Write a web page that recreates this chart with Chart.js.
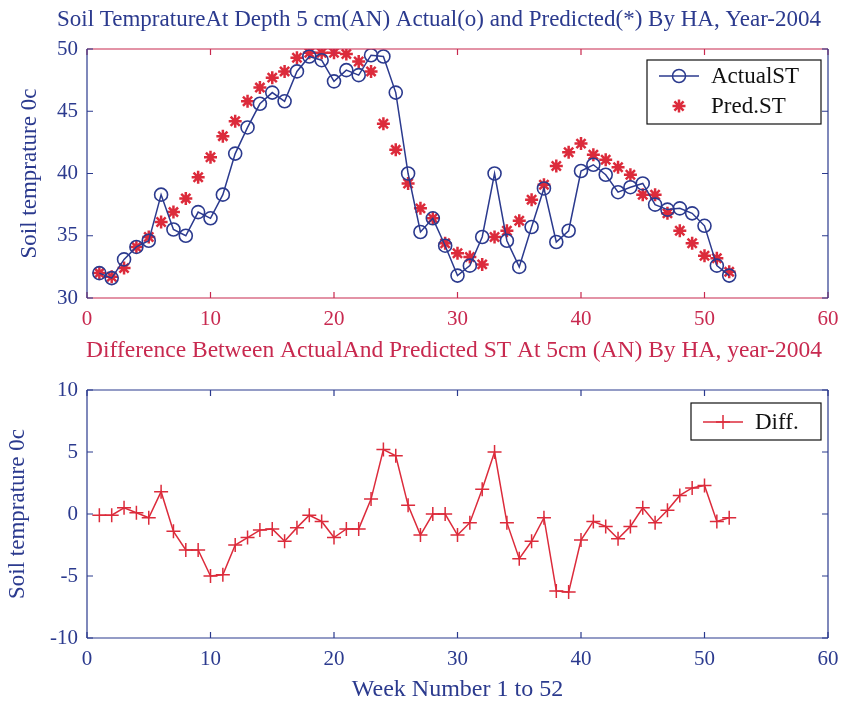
<!DOCTYPE html>
<html lang="en">
<head>
<meta charset="UTF-8">
<title>Soil Temprature 2004</title>
<script src="https://cdn.jsdelivr.net/npm/chart.js"></script>
<style>
  body { margin: 0; background: #fff; overflow: hidden; }
  .box { position: absolute; left: 0; width: 857px; }
</style>
</head>
<body>
<div class="box" style="top:0;height:335px"><canvas id="tempChart" width="857" height="335"></canvas></div>
<div class="box" style="top:335px;height:373px"><canvas id="diffChart" width="857" height="373"></canvas></div>
<script>
// week numbers and values
const weeks = [1,2,3,4,5,6,7,8,9,10,11,12,13,14,15,16,17,18,19,20,21,22,23,24,25,26,
               27,28,29,30,31,32,33,34,35,36,37,38,39,40,41,42,43,44,45,46,47,48,49,50,51,52];
const actualST = [32.0,31.6,33.1,34.1,34.6,38.3,35.5,35.0,36.9,36.4,38.3,41.6,43.7,45.6,46.5,45.8,48.2,49.4,49.1,47.4,
                  48.3,47.9,49.5,49.4,46.5,40.0,35.3,36.4,34.2,31.8,32.6,34.9,40.0,34.6,32.5,35.7,38.8,34.5,35.4,40.2,
                  40.7,39.9,38.5,38.9,39.2,37.5,37.1,37.2,36.8,35.8,32.6,31.8];
const predST = [32.0,31.7,32.4,34.1,34.9,36.1,36.9,38.0,39.7,41.3,43.0,44.2,45.8,46.9,47.7,48.2,49.3,49.7,49.7,49.7,
                49.6,49.0,48.2,44.0,41.9,39.2,37.2,36.4,34.4,33.6,33.3,32.7,34.9,35.4,36.2,37.9,39.1,40.6,41.7,42.4,
                41.5,41.1,40.5,39.9,38.3,38.3,36.8,35.4,34.4,33.4,33.2,32.1];
const diffST = [-0.1,-0.1,0.5,0.1,-0.3,1.8,-1.4,-2.9,-2.9,-5.0,-4.9,-2.5,-1.9,-1.3,-1.2,-2.2,-1.1,-0.1,-0.6,-1.9,
                -1.2,-1.2,1.2,5.2,4.7,0.7,-1.7,0.0,0.0,-1.7,-0.7,2.0,5.0,-0.7,-3.6,-2.2,-0.3,-6.2,-6.3,-2.1,
                -0.6,-1.0,-2.0,-1.0,0.5,-0.7,0.3,1.5,2.1,2.3,-0.6,-0.3];
const xTicks = [0,10,20,30,40,50,60];
const tempTicks = [30,35,40,45,50];
const diffTicks = [-10,-5,0,5,10];

const BLUE = '#2b3a8e';
const RED = '#dc2b3b';
const CRIMSON = '#c8294f';
const FONT = 'Liberation Serif, Times New Roman, serif';

function pts(ys) { return weeks.map((w, i) => ({ x: w, y: ys[i] })); }

function marker(ctx, style, x, y, r) {
  ctx.beginPath();
  if (style === 'circle') {
    ctx.arc(x, y, r, 0, Math.PI * 2);
  } else {
    ctx.moveTo(x - r, y); ctx.lineTo(x + r, y);
    ctx.moveTo(x, y - r); ctx.lineTo(x, y + r);
    if (style === 'star') {
      const d = r * 0.707;
      ctx.moveTo(x - d, y - d); ctx.lineTo(x + d, y + d);
      ctx.moveTo(x - d, y + d); ctx.lineTo(x + d, y - d);
    }
  }
  ctx.stroke();
}

// matlab-like box: coloured edges, inward ticks, title and a boxed legend
const frame = {
  id: 'frame',
  afterDraw(chart, args, o) {
    const ctx = chart.ctx, a = chart.chartArea;
    const xs = chart.scales.x, ys = chart.scales.y;
    ctx.save();
    ctx.lineWidth = 1.2;
    ctx.strokeStyle = o.xColor;
    ctx.beginPath();
    ctx.moveTo(a.left, a.top); ctx.lineTo(a.right, a.top);
    ctx.moveTo(a.left, a.bottom); ctx.lineTo(a.right, a.bottom);
    o.xTicks.forEach(v => {
      const px = xs.getPixelForValue(v);
      ctx.moveTo(px, a.top); ctx.lineTo(px, a.top + 6);
      ctx.moveTo(px, a.bottom); ctx.lineTo(px, a.bottom - 6);
    });
    ctx.stroke();
    ctx.strokeStyle = o.yColor;
    ctx.beginPath();
    ctx.moveTo(a.left, a.top); ctx.lineTo(a.left, a.bottom);
    ctx.moveTo(a.right, a.top); ctx.lineTo(a.right, a.bottom);
    o.yTicks.forEach(v => {
      const py = ys.getPixelForValue(v);
      ctx.moveTo(a.left, py); ctx.lineTo(a.left + 6, py);
      ctx.moveTo(a.right, py); ctx.lineTo(a.right - 6, py);
    });
    ctx.stroke();

    ctx.fillStyle = o.titleColor;
    ctx.font = o.titleSize + 'px ' + FONT;
    ctx.textAlign = 'center';
    ctx.textBaseline = 'middle';
    ctx.fillText(o.title, o.titleX, o.titleY);

    // legend
    const L = o.legend;
    ctx.fillStyle = '#fff';
    ctx.fillRect(L.x, L.y, L.w, L.h);
    ctx.strokeStyle = '#111';
    ctx.lineWidth = 1.2;
    ctx.strokeRect(L.x, L.y, L.w, L.h);
    ctx.font = '23px ' + FONT;
    ctx.textAlign = 'left';
    L.items.forEach((it, i) => {
      const cy = L.y + L.first + i * L.step;
      const lx = L.x + 12;
      ctx.strokeStyle = it.color;
      ctx.lineWidth = 1.5;
      if (it.line) {
        ctx.beginPath(); ctx.moveTo(lx, cy); ctx.lineTo(lx + 40, cy); ctx.stroke();
      }
      ctx.lineWidth = it.style === 'star' ? 2.5 : 1.5;
      marker(ctx, it.style, lx + 20, cy, it.r);
      ctx.fillStyle = '#111';
      ctx.fillText(it.label, L.x + 64, cy + 1);
    });
    ctx.restore();
  }
};

function scales(yMin, yMax, xColor, yColor, xTitle, xHeight, yPad) {
  return {
    x: {
      type: 'linear', min: 0, max: 60,
      afterBuildTicks: s => { s.ticks = xTicks.map(v => ({ value: v })); },
      afterFit: s => { s.height = xHeight; },
      grid: { display: false, drawTicks: false }, border: { display: false },
      ticks: { color: xColor, padding: 9, maxRotation: 0, font: { family: FONT, size: 21 } },
      title: xTitle ? { display: true, text: xTitle, color: BLUE, padding: { top: 2, bottom: 4 },
                        font: { family: FONT, size: 24 } } : { display: false }
    },
    y: {
      type: 'linear', min: yMin, max: yMax,
      afterFit: s => { s.width = 87; },
      grid: { display: false, drawTicks: false }, border: { display: false },
      ticks: { color: yColor, padding: 9, stepSize: 5, font: { family: FONT, size: 21 } },
      title: { display: true, text: 'Soil temprature 0c', color: BLUE, padding: { top: yPad, bottom: 0 },
               font: { family: FONT, size: 23 } }
    }
  };
}

new Chart(document.getElementById('tempChart'), {
  type: 'line',
  data: {
    datasets: [{
      label: 'ActualST',
      data: pts(actualST),
      borderColor: BLUE,
      borderWidth: 1.5,
      pointStyle: 'circle',
      pointRadius: 6.5,
      pointBorderColor: BLUE,
      pointBackgroundColor: 'rgba(0,0,0,0)',
      pointBorderWidth: 1.6,
      tension: 0
    }, {
      label: 'Pred.ST',
      data: pts(predST),
      showLine: false,
      pointStyle: 'star',
      pointRadius: 6.5,
      pointBorderColor: RED,
      pointBorderWidth: 2.5
    }]
  },
  options: {
    responsive: false,
    animation: false,
    devicePixelRatio: 1,
    layout: { padding: { top: 49, right: 29, left: 0, bottom: 0 } },
    scales: scales(30, 50, CRIMSON, BLUE, null, 37, 16),
    plugins: {
      legend: { display: false },
      tooltip: { enabled: false },
      frame: {
        xColor: CRIMSON, yColor: BLUE, xTicks: xTicks, yTicks: tempTicks,
        title: 'Soil TempratureAt Depth 5 cm(AN) Actual(o) and Predicted(*) By HA, Year-2004',
        titleColor: BLUE, titleSize: 23, titleX: 439, titleY: 20,
        legend: { x: 647, y: 60, w: 174, h: 64, first: 16, step: 30, items: [
          { label: 'ActualST', color: BLUE, style: 'circle', r: 6.5, line: true },
          { label: 'Pred.ST', color: RED, style: 'star', r: 6.5, line: false }
        ] }
      }
    }
  },
  plugins: [frame]
});

new Chart(document.getElementById('diffChart'), {
  type: 'line',
  data: {
    datasets: [{
      label: 'Diff.',
      data: pts(diffST),
      borderColor: RED,
      borderWidth: 1.5,
      pointStyle: 'cross',
      pointRadius: 7,
      pointBorderColor: RED,
      pointBorderWidth: 1.5,
      tension: 0
    }]
  },
  options: {
    responsive: false,
    animation: false,
    devicePixelRatio: 1,
    layout: { padding: { top: 55, right: 29, left: 0, bottom: 0 } },
    scales: scales(-10, 10, BLUE, BLUE, 'Week Number 1 to 52', 70, 4),
    plugins: {
      legend: { display: false },
      tooltip: { enabled: false },
      frame: {
        xColor: BLUE, yColor: BLUE, xTicks: xTicks, yTicks: diffTicks,
        title: 'Difference Between ActualAnd Predicted ST At 5cm (AN) By HA, year-2004',
        titleColor: CRIMSON, titleSize: 23.5, titleX: 454, titleY: 16,
        legend: { x: 691, y: 68, w: 130, h: 37, first: 19, step: 30, items: [
          { label: 'Diff.', color: RED, style: 'cross', r: 7, line: true }
        ] }
      }
    }
  },
  plugins: [frame]
});
</script>
</body>
</html>
